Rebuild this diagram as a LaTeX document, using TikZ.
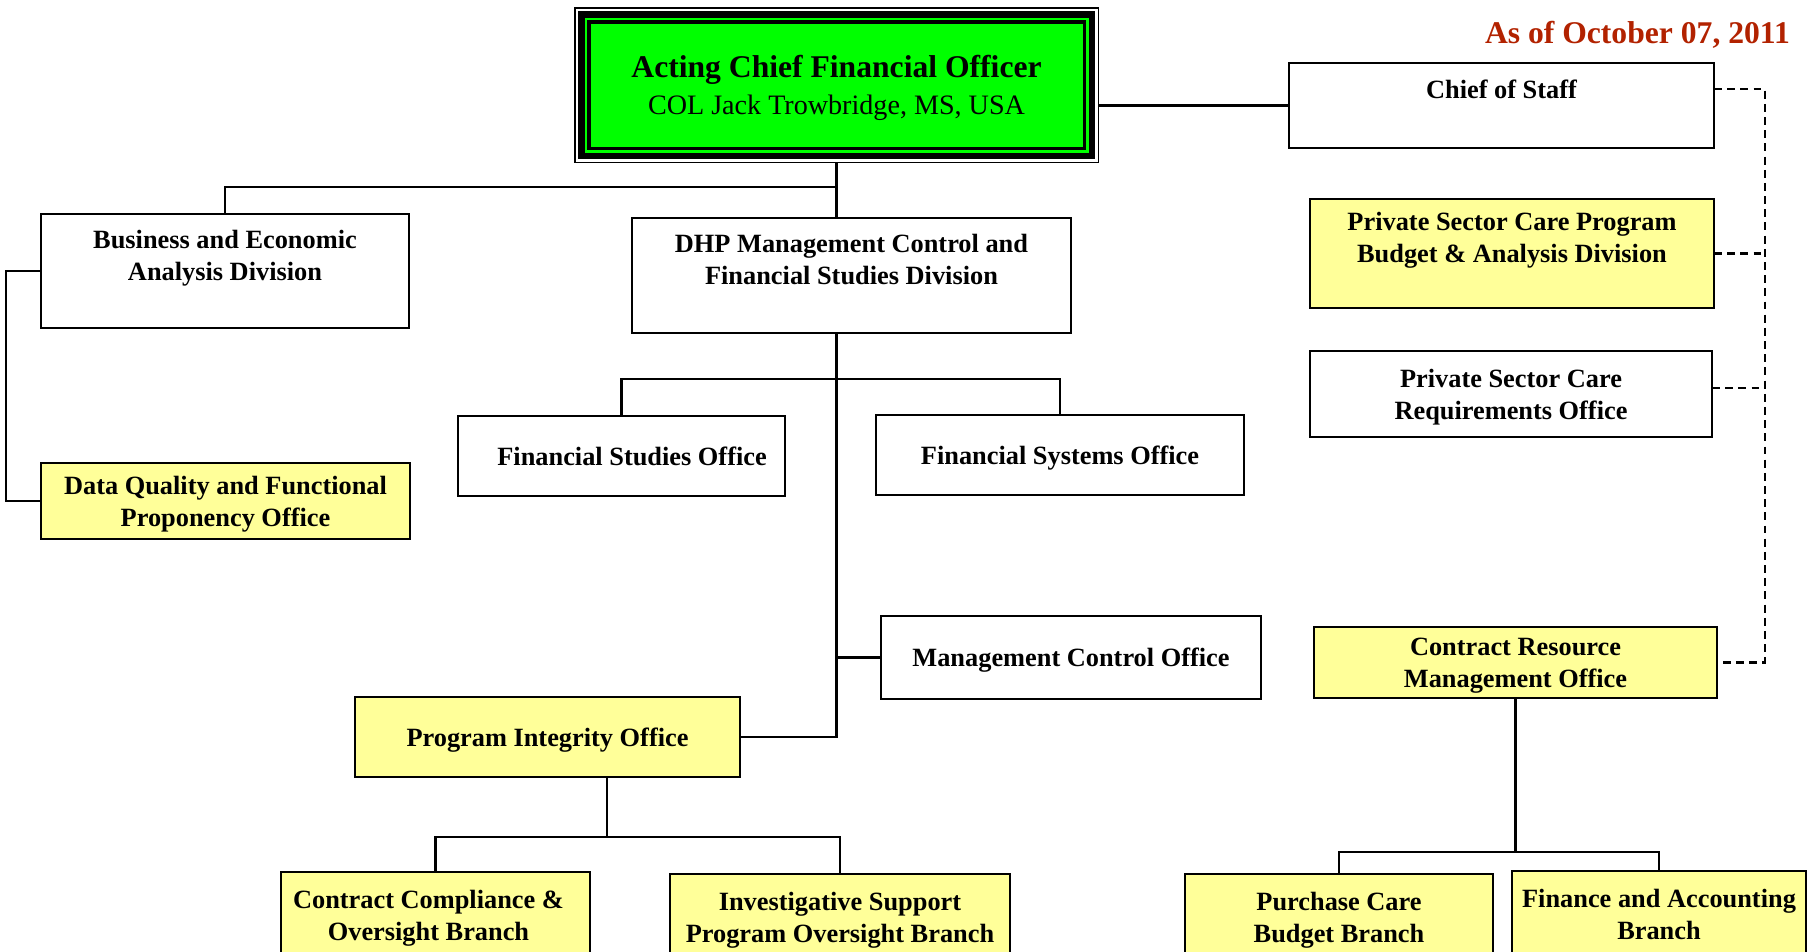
\documentclass[tikz,border=0pt]{standalone}
\usepackage{fontspec}
\setmainfont{Liberation Serif}
\definecolor{cfogreen}{RGB}{0,255,0}
\definecolor{boxyellow}{RGB}{255,255,153}
\definecolor{datered}{RGB}{178,34,0}

\tikzset{
    box/.style={draw, line width=1.4pt, outer sep=0pt, inner sep=2pt, align=center, text depth=-4.5pt,
        font=\bfseries\fontsize{15}{18.2}\selectfont},
    ybox/.style={box, fill=boxyellow},
    boxsize/.style 2 args={minimum width=#1*0.02cm, minimum height=#2*0.02cm},
    link/.style={line width=1.4pt},
    dashlink/.style={line width=1.3pt, dash pattern=on 4.5pt off 3pt}
}

\begin{document}
\begin{tikzpicture}[x=0.02cm, y=-0.02cm]
    \clip (0,0) rectangle (1818,951);

    % top office
    \node[draw, line width=0.85pt, fill=white, outer sep=0pt, boxsize={523.5}{154.5}] (cfo) at (836.5,85) {};
    \fill[black] (578,11) rectangle (1095,159);
    \fill[cfogreen] (584.5,17.5) rectangle (1088.5,152.5);
    \node[draw, line width=2pt, fill=cfogreen, boxsize={495.5}{126.5}, align=center, text depth=-1.5pt,
        font=\fontsize{16}{21}\selectfont] (cfotext) at (cfo)
        {{\fontsize{18}{21}\selectfont\bfseries Acting Chief Financial Officer}\\COL Jack Trowbridge, MS, USA};

    \node[anchor=east, text=datered, font=\bfseries\fontsize{18}{21}\selectfont] (asof) at (1796,35) {As of October 07, 2011};

    % boxes
    \node[box, boxsize={425}{85}] (cos) at (1501.5,105.5) {Chief of Staff\\ ~};
    \node[box, boxsize={368}{114}] (bead) at (225,271) {Business and Economic\\Analysis Division\\ ~};
    \node[box, boxsize={439}{115}] (dhp) at (851.5,275.5) {DHP Management Control and\\Financial Studies Division\\ ~};
    \node[ybox, boxsize={404}{109}] (pscpb) at (1512,253.5) {Private Sector Care Program\\Budget \& Analysis Division\\ ~};
    \node[box, boxsize={402}{86}] (pscro) at (1511,394) {Private Sector Care\\Requirements Office};
    \node[box, boxsize={327}{80}] (fso) at (621.5,456) {\hspace*{12pt}Financial Studies Office};
    \node[box, boxsize={368}{80}] (fsyso) at (1060,455) {Financial Systems Office};
    \node[ybox, boxsize={369}{76}] (dqfpo) at (225.5,501) {Data Quality and Functional\\Proponency Office};
    \node[box, boxsize={380}{83}] (mco) at (1071,657.5) {Management Control Office};
    \node[ybox, boxsize={403}{71}] (crmo) at (1515.5,662.5) {Contract Resource\\Management Office};
    \node[ybox, boxsize={385}{80}] (pio) at (547.5,737) {Program Integrity Office};
    \node[ybox, boxsize={309}{86}] (ccob) at (435.5,915) {Contract Compliance \&\hspace*{8pt}\\Oversight Branch\hspace*{8pt}};
    \node[ybox, boxsize={340}{86}] (ispob) at (840,917) {Investigative Support\\Program Oversight Branch};
    \node[ybox, boxsize={308}{86}] (pcbb) at (1339,917) {Purchase Care\\Budget Branch};
    \node[ybox, boxsize={294}{86}] (fab) at (1659,914) {Finance and Accounting\\Branch};

    % solid lines
    \draw[link] (cfo.south) -- (cfo.south |- dhp.north);
    \draw[link] (bead.north) |- (cfo.south |- 0,187);
    \draw[link] (cos.west) -- (cos.west -| cfo.east);
    \draw[link] (bead.west) -- ++(-35,0) |- (dqfpo.west);
    \draw[link] (dhp.south -| cfo.south) |- (pio.east);
    \draw[link] (fso.north) -- ++(0,-37) -| (fsyso.north);
    \draw[link] (mco.west) -- (mco.west -| cfo.south);
    \draw[link] (pio.south -| 607,0) -- ++(0,60);
    \draw[link] (ccob.north) -- ++(0,-35) -| (ispob.north);
    \draw[link] (crmo.south) -- ++(0,154);
    \draw[link] (pcbb.north) -- ++(0,-22) -| (fab.north);

    % dashed lines
    \draw[dashlink] (cos.east |- 0,89) -| (crmo.east -| 1765,0) -- (crmo.east);
    \draw[dashlink] (pscpb.east) -- (pscpb.east -| 1765,0);
    \draw[dashlink] (pscro.east |- 0,388) -- (1765,388);
\end{tikzpicture}
\end{document}
